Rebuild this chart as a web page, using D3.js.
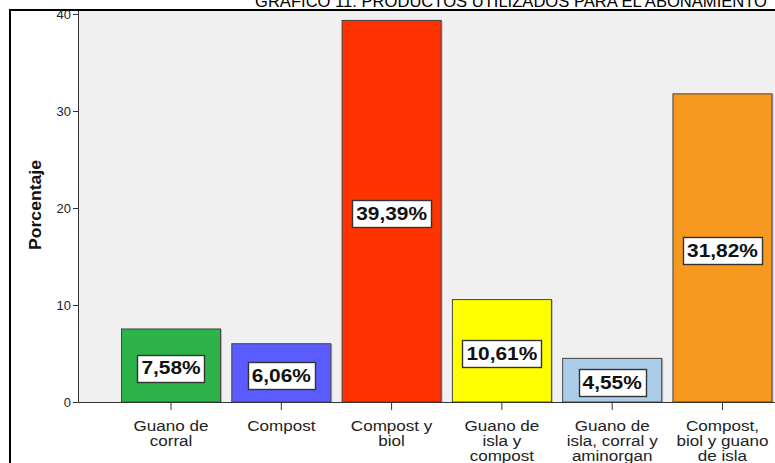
<!DOCTYPE html>
<html>
<head>
<meta charset="utf-8">
<script src="https://cdn.jsdelivr.net/npm/d3@7/dist/d3.min.js"></script>
<style>
  html, body { margin: 0; padding: 0; background: #fff; }
  svg { display: block; font-family: Arial, "Liberation Sans", sans-serif; }
</style>
</head>
<body>
<svg id="chart" width="775" height="463"></svg>
<script>
// Productos utilizados para el abonamiento (% de productores)
const categories = [
  ["Guano de", "corral"],
  ["Compost"],
  ["Compost y", "biol"],
  ["Guano de", "isla y", "compost"],
  ["Guano de", "isla, corral y", "aminorgan"],
  ["Compost,", "biol y guano", "de isla"]
];
const values = [7.58, 6.06, 39.39, 10.61, 4.55, 31.82];
const barColors = ["#2db34a", "#5a5cff", "#ff3300", "#ffff00", "#abcdea", "#f7981f"];
const yTicks = [0, 10, 20, 30, 40];
const title = "GRÁFICO 11: PRODUCTOS UTILIZADOS PARA EL ABONAMIENTO";
const yLabel = "Porcentaje";

const svg = d3.select("#chart");

// Outer frame (extends past the visible window on the right and bottom)
svg.append("rect")
  .attr("x", 10).attr("y", 10)
  .attr("width", 800).attr("height", 500)
  .attr("fill", "#fff")
  .attr("stroke", "#000").attr("stroke-width", 2);

// Title, sitting above the frame
svg.append("text")
  .attr("x", 511).attr("y", 7)
  .attr("text-anchor", "middle")
  .attr("font-size", 17)
  .attr("textLength", 512)
  .attr("lengthAdjust", "spacingAndGlyphs")
  .attr("fill", "#000")
  .text(title);

const plot = { left: 79, top: 11, right: 776, bottom: 402 };

const y = d3.scaleLinear().domain([0, 40]).range([plot.bottom, 14]);
const x = d3.scaleBand()
  .domain(d3.range(values.length))
  .range([115.5, 778])
  .paddingInner(0.093)
  .paddingOuter(0.05);

// Plot background
svg.append("rect")
  .attr("x", plot.left).attr("y", plot.top)
  .attr("width", plot.right - plot.left).attr("height", plot.bottom - plot.top)
  .attr("fill", "#f0f0f0");

// Bars with a soft shadow edge
const bars = svg.append("g");
bars.selectAll("rect.shadow")
  .data(values)
  .join("rect")
  .attr("class", "shadow")
  .attr("x", (d, i) => x(i) + 1)
  .attr("y", d => y(d) + 1)
  .attr("width", x.bandwidth())
  .attr("height", d => plot.bottom - y(d) - 1)
  .attr("fill", "#bdbdbd");

bars.selectAll("rect.bar")
  .data(values)
  .join("rect")
  .attr("class", "bar")
  .attr("x", (d, i) => x(i) + 0.5)
  .attr("y", d => y(d) + 0.5)
  .attr("width", x.bandwidth() - 1)
  .attr("height", d => plot.bottom - y(d) - 0.5)
  .attr("fill", (d, i) => barColors[i])
  .attr("stroke", "#444")
  .attr("stroke-width", 1);

// Value labels in white boxes at the middle of each bar
const fmt = v => v.toFixed(2).replace(".", ",") + "%";
const labels = svg.append("g");
values.forEach((v, i) => {
  const cx = x(i) + x.bandwidth() / 2;
  const cy = (y(v) + plot.bottom) / 2 + 3;
  const g = labels.append("g");
  const t = g.append("text")
    .attr("x", cx).attr("y", cy)
    .attr("text-anchor", "middle")
    .attr("dominant-baseline", "central")
    .attr("font-size", 18)
    .attr("font-weight", "bold")
    .attr("fill", "#111")
    .text(fmt(v));
  // the label face is drawn slightly widened
  const w = t.node().getComputedTextLength() * 1.16;
  t.attr("textLength", w).attr("lengthAdjust", "spacingAndGlyphs");
  g.insert("rect", "text")
    .attr("x", Math.round(cx - w / 2 - 4) + 0.5)
    .attr("y", Math.round(cy - 13.5) + 0.5)
    .attr("width", Math.round(w + 8))
    .attr("height", 27)
    .attr("fill", "#fff")
    .attr("stroke", "#333")
    .attr("stroke-width", 1.4);
});

// Y axis
const yAxis = svg.append("g")
  .attr("transform", `translate(${plot.left},0)`)
  .call(d3.axisLeft(y).tickValues(yTicks).tickSize(6).tickPadding(2));
yAxis.select(".domain").attr("stroke", "#333").attr("d", `M-0.5,${plot.top}V${plot.bottom + 0.5}`);
yAxis.selectAll(".tick line").attr("stroke", "#333");
yAxis.selectAll(".tick text").attr("font-size", 13).attr("fill", "#222").attr("font-family", "Arial, sans-serif");

// X axis baseline and ticks
const xAxis = svg.append("g")
  .attr("transform", `translate(0,${plot.bottom})`)
  .call(d3.axisBottom(x).tickSize(8).tickFormat(""));
xAxis.select(".domain").attr("stroke", "#333").attr("d", `M${plot.left},0.5H${plot.right}`);
xAxis.selectAll(".tick line").attr("stroke", "#333");

// Multi-line category labels, slightly widened faces with tight leading
categories.forEach((lines, i) => {
  const cx = x(i) + x.bandwidth() / 2;
  lines.forEach((ln, k) => {
    const t = svg.append("text")
      .attr("x", cx).attr("y", 431 + k * 15)
      .attr("text-anchor", "middle")
      .attr("font-size", 15.5)
      .attr("fill", "#222")
      .text(ln);
    const w = t.node().getComputedTextLength() * 1.1;
    t.attr("textLength", w).attr("lengthAdjust", "spacingAndGlyphs");
  });
});

// Y axis title
svg.append("text")
  .attr("transform", "translate(41,205) rotate(-90)")
  .attr("text-anchor", "middle")
  .attr("font-size", 16)
  .attr("font-weight", "bold")
  .attr("textLength", 90)
  .attr("lengthAdjust", "spacingAndGlyphs")
  .attr("fill", "#111")
  .text(yLabel);
</script>
</body>
</html>
